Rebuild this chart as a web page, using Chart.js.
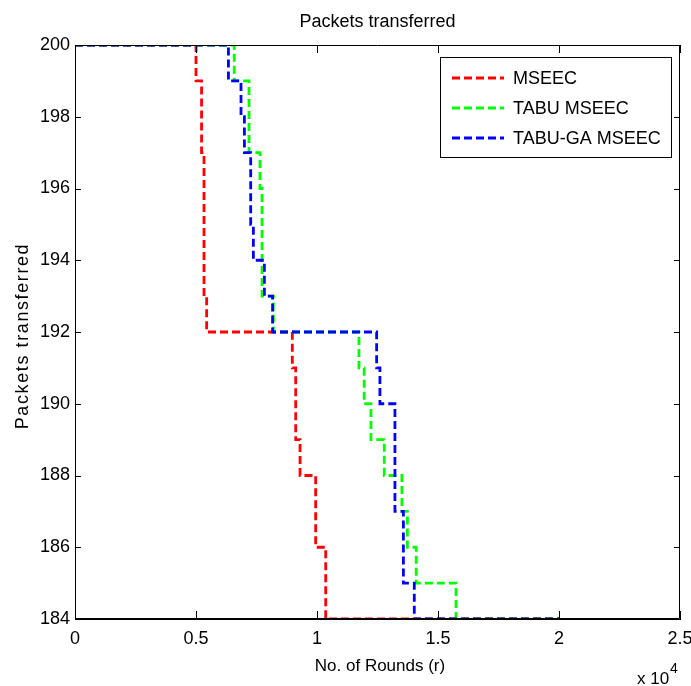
<!DOCTYPE html>
<html>
<head>
<meta charset="utf-8">
<title>Packets transferred</title>
<script src="https://cdn.jsdelivr.net/npm/chart.js@4.4.1/dist/chart.umd.min.js"></script>
<style>
  html, body { margin: 0; padding: 0; background: #fff; }
  #wrap { width: 691px; height: 686px; }
</style>
</head>
<body>
<div id="wrap"><canvas id="chart" width="691" height="686"></canvas></div>
<script>
// step points: x = round where the count drops, y = new count
const mseecRounds = [0, 5000, 5230, 5330, 5440, 8980, 9120, 9300, 9945, 10360, 20000];
const mseecPackets = [200, 199, 197, 193, 192, 191, 189, 188, 186, 184, 184];

const tabuRounds = [0, 6580, 7190, 7645, 7730, 8195, 11735, 11950, 12230, 12780, 13510, 13735, 14100, 15745, 20000];
const tabuPackets = [200, 199, 197, 196, 193, 192, 191, 190, 189, 188, 187, 186, 185, 184, 184];

const tabuGaRounds = [0, 6340, 6860, 7000, 7260, 7370, 7825, 8165, 12465, 12600, 13220, 13570, 14020, 20000];
const tabuGaPackets = [200, 199, 198, 197, 195, 194, 193, 192, 191, 190, 187, 185, 184, 184];

const seriesLabels = ["MSEEC", "TABU MSEEC", "TABU-GA MSEEC"];
const seriesColors = ["#ff0000", "#00ff00", "#0000ff"];

const xTicks = [0, 5000, 10000, 15000, 20000, 25000];
const yTicks = [184, 186, 188, 190, 192, 194, 196, 198, 200];

const FONT = "'Liberation Sans', Arial, sans-serif";

const toPoints = (xs, ys) => xs.map((x, i) => ({ x: x, y: ys[i] }));

// "before" in Chart.js = go horizontal first, then drop
const lineStyle = {
  stepped: "before",
  borderWidth: 2.8,
  borderDash: [8, 4],
  pointRadius: 0,
  fill: false,
};

// frame, inward ticks, titles and legend in the MATLAB look
const matlabLook = {
  id: "matlabLook",
  afterDraw(chart) {
    const ctx = chart.ctx;
    const a = chart.chartArea;
    const xs = chart.scales.x;
    const ys = chart.scales.y;
    ctx.save();
    ctx.strokeStyle = "#000";
    ctx.lineWidth = 1;
    ctx.beginPath();
    ctx.rect(a.left + 0.5, a.top + 0.5, a.right - a.left - 1, a.bottom - a.top - 1);
    ctx.stroke();

    ctx.beginPath();
    xTicks.forEach((v) => {
      const px = Math.round(xs.getPixelForValue(v)) + 0.5;
      ctx.moveTo(px, a.bottom);
      ctx.lineTo(px, a.bottom - 8);
      ctx.moveTo(px, a.top);
      ctx.lineTo(px, a.top + 8);
    });
    yTicks.forEach((v) => {
      const py = Math.round(ys.getPixelForValue(v)) + 0.5;
      ctx.moveTo(a.left, py);
      ctx.lineTo(a.left + 6, py);
      ctx.moveTo(a.right, py);
      ctx.lineTo(a.right - 6, py);
    });
    ctx.stroke();

    // titles
    ctx.fillStyle = "#000";
    ctx.font = "18px " + FONT;
    ctx.textAlign = "center";
    ctx.textBaseline = "alphabetic";
    ctx.fillText("Packets transferred", (a.left + a.right) / 2, 27);

    ctx.font = "17px " + FONT;
    ctx.fillText("No. of Rounds (r)", 380, 671);

    ctx.save();
    ctx.translate(28, 336);
    ctx.rotate(-Math.PI / 2);
    ctx.font = "18px " + FONT;
    ctx.letterSpacing = "1.6px";
    ctx.fillText("Packets transferred", 0, 0);
    ctx.restore();

    ctx.textAlign = "left";
    ctx.font = "17px " + FONT;
    ctx.fillText("x 10", 637, 684);
    ctx.font = "14px " + FONT;
    ctx.fillText("4", 670, 673);

    // legend box
    const lx = 440, ly = 57, lw = 231, lh = 100;
    ctx.fillStyle = "#fff";
    ctx.fillRect(lx, ly, lw, lh);
    ctx.strokeStyle = "#000";
    ctx.lineWidth = 1;
    ctx.strokeRect(lx + 0.5, ly + 0.5, lw, lh);
    const rows = [78, 108, 138];
    ctx.font = "18px " + FONT;
    ctx.textBaseline = "middle";
    seriesLabels.forEach((label, i) => {
      ctx.strokeStyle = seriesColors[i];
      ctx.lineWidth = 2.8;
      ctx.setLineDash([8, 4]);
      ctx.beginPath();
      ctx.moveTo(452, rows[i]);
      ctx.lineTo(504, rows[i]);
      ctx.stroke();
      ctx.setLineDash([]);
      ctx.fillStyle = "#000";
      ctx.fillText(label, 513, rows[i] + 1);
    });
    ctx.restore();
  },
};

new Chart(document.getElementById("chart"), {
  type: "line",
  data: {
    datasets: [
      { label: seriesLabels[0], data: toPoints(mseecRounds, mseecPackets), borderColor: seriesColors[0], order: 2, ...lineStyle },
      { label: seriesLabels[1], data: toPoints(tabuRounds, tabuPackets), borderColor: seriesColors[1], order: 1, ...lineStyle },
      { label: seriesLabels[2], data: toPoints(tabuGaRounds, tabuGaPackets), borderColor: seriesColors[2], order: 0, ...lineStyle },
    ],
  },
  options: {
    responsive: false,
    animation: false,
    layout: { padding: { top: 45, right: 11, left: 0, bottom: 0 } },
    plugins: {
      legend: { display: false },
      title: { display: false },
      tooltip: { enabled: false },
    },
    scales: {
      x: {
        type: "linear",
        min: 0,
        max: 25000,
        afterFit: (s) => { s.height = 67; s.paddingLeft = 0; s.paddingRight = 0; },
        afterBuildTicks: (s) => { s.ticks = xTicks.map((v) => ({ value: v })); },
        ticks: {
          color: "#000",
          font: { family: FONT, size: 18 },
          padding: 9,
          maxRotation: 0,
          callback: (v) => String(v / 10000),
        },
        grid: { display: false, drawTicks: false },
        border: { display: true, color: "#000", width: 1 },
      },
      y: {
        type: "linear",
        min: 184,
        max: 200,
        afterFit: (s) => { s.width = 75; s.paddingTop = 0; s.paddingBottom = 0; },
        afterBuildTicks: (s) => { s.ticks = yTicks.map((v) => ({ value: v })); },
        ticks: {
          color: "#000",
          font: { family: FONT, size: 18 },
          padding: 5,
        },
        grid: { display: false, drawTicks: false },
        border: { display: true, color: "#000", width: 1 },
      },
    },
  },
  plugins: [matlabLook],
});
</script>
</body>
</html>
